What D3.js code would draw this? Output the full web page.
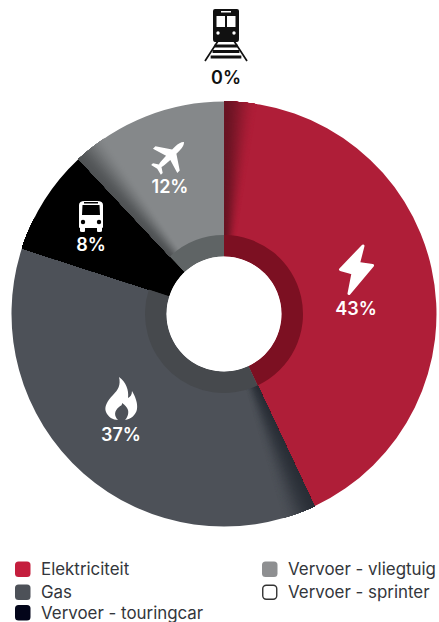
<!DOCTYPE html>
<html><head><meta charset="utf-8">
<script src="https://cdn.jsdelivr.net/npm/d3@7"></script>
<style>html,body{margin:0;background:#fff;overflow:hidden}svg{display:block}
text{font-family:Inter,sans-serif}</style></head><body><svg id="c" width="439" height="622"></svg>
<script>
const categories=["Elektriciteit","Gas","Vervoer - touringcar","Vervoer - vliegtuig","Vervoer - sprinter"];
const values=[43,37,8,12,0];
const sliceColors=["#AF1E38","#4D5158","#000000","#85888A","#FFFFFF"];
const shadeColors=["#6A1524","#2A2F37","#000000","#505355","#FFFFFF"];
const ringColors=["#7C1022","#46494D","#000000","#5F6465","#FFFFFF"];
const legendColors=["#C41E3D","#4D5158","#03051A","#8E8F91","#FFFFFF"];
const iconNames=["bolt","flame","bus","plane","train"];
const width=439,height=622,cx=224,cy=314,R=212.5,Rring=79,Rhole=57.5;
const svg=d3.select("#c");
const g=svg.append("g").attr("transform",`translate(${cx},${cy})`);
const pie=d3.pie().sort(null).value((d,i)=>values[i]);
const arcs=pie(categories);
const arc=d3.arc();
g.selectAll("path.s").data(arcs).join("path").attr("class","s")
 .attr("d",d=>arc({innerRadius:Rhole,outerRadius:R,startAngle:d.startAngle,endAngle:d.endAngle}))
 .attr("fill",(d,i)=>sliceColors[i]);
const shadowSpan=9*Math.PI/180,steps=60;
arcs.forEach((d,i)=>{ if(d.value===0)return;
 const col=d3.interpolateRgb(shadeColors[i],sliceColors[i]);
 // drawn from the far end back to the slice edge, each opaque band reaching the edge, so no seams appear
 d3.range(steps-1,-1,-1).forEach(k=>{
  const a1=d.startAngle+shadowSpan*(k+1)/steps;
  const u=(k+0.5)/steps;
  g.append("path").attr("d",arc({innerRadius:Rring,outerRadius:R,startAngle:d.startAngle,endAngle:a1}))
   .attr("fill",col(u*u*(3-2*u)));
 });
});
g.selectAll("path.r").data(arcs).join("path").attr("class","r")
 .attr("d",d=>arc({innerRadius:Rhole,outerRadius:Rring,startAngle:d.startAngle,endAngle:d.endAngle}))
 .attr("fill",(d,i)=>ringColors[i]);
g.append("circle").attr("r",Rhole).attr("fill","#fff");

const icons={
 bolt:s=>s.append("path").attr("d","M7,-24 L-15.5,-0.5 L-3,3 L-7,23.5 L16.5,-4.5 L2.5,-6.5 Z").attr("stroke-width",3).attr("stroke-linejoin","round").attr("stroke","currentColor"),
 flame:s=>s.append("path").attr("fill-rule","evenodd").attr("d","M-2,-21 C0,-13 -3,-8 -8,-3 C-14,3 -17,9 -15,14 C-13,19 -8,22 -3,22 C-7,18 -7,13 -2,9 C1,7 1,7 1,5 C4,7 6,9 7,12 C8,16 6,20 4,22 C10,21 15,17 16,11 C17,5 14,-2 11,-7 C11,-3 9,-1 7,0 C8,-8 5,-16 -2,-21 Z"),
 bus:s=>{
  s.append("path").attr("fill-rule","evenodd").attr("d","M-12,-11 Q-12,-15 -6,-15 L6,-15 Q12,-15 12,-11 L12,11 Q12,12 11,12 L11,15 Q11,16 9,16 L7,16 Q6,16 6,15 L6,12 L-6,12 L-6,15 Q-6,16 -7,16 L-9,16 Q-11,16 -11,15 L-11,12 Q-12,12 -12,11 Z M-8.5,-11 L-9,-1 L9,-1 L8.5,-11 Z");
  s.append("rect").attr("x",-7).attr("y",-14).attr("width",14).attr("height",1.5).attr("fill","#000");
  s.selectAll("circle").data([-8,8]).join("circle").attr("cx",d=>d).attr("cy",6).attr("r",2.2).attr("fill","#000");
 },
 plane:s=>s.append("g").attr("transform","rotate(45) scale(.86)").append("path").attr("d","M0,-23 Q3.5,-20 3.5,-12 L3.5,-7 L20,4 L20,8 L3.5,3 L3,12 Q3,15 2,16 L8,20 L8,23 L0,21 L-8,23 L-8,20 L-2,16 Q-3,15 -3,12 L-3.5,3 L-20,8 L-20,4 L-3.5,-7 L-3.5,-12 Q-3.5,-20 0,-23 Z"),
 train:s=>{
  s.append("path").attr("fill-rule","evenodd").attr("d","M-11,-27 L11,-27 Q13,-27 13,-25 L13,3 Q13,6 11,6 L-11,6 Q-13,6 -13,3 L-13,-25 Q-13,-27 -11,-27 Z M-9.5,-20 L-9.5,-9 L-1,-9 L-1,-20 Z M1,-20 L1,-9 L9.5,-9 L9.5,-20 Z M-5,-25 L-5,-23.5 L5,-23.5 L5,-25 Z");
  s.selectAll("circle").data([-8,8]).join("circle").attr("cx",d=>d).attr("cy",-3).attr("r",1.7).attr("fill","#fff");
  s.append("path").attr("fill","none").attr("stroke","currentColor").attr("stroke-width",1.7).attr("d","M-8,5 L-21,25 M8,5 L21,25");
  s.selectAll("rect").data([10,15.5,21]).join("rect").attr("x",d=>-8-d*0.35).attr("y",d=>d-1.5).attr("width",d=>16+d*0.7).attr("height",3);
 }
};
const iconAnchors=[[356,270],[121,398],[91,216],[170,156],[226,36]];
const labelAnchors=[[356,315],[121,441],[91,251],[170,193],[226,84]];
const labelFills=["#fff","#fff","#fff","#fff","#111"];
iconNames.forEach((n,i)=>{
 const s=svg.append("g").attr("transform",`translate(${iconAnchors[i]})`).attr("fill",labelFills[i]).style("color",labelFills[i]);
 icons[n](s);
 svg.append("text").attr("x",labelAnchors[i][0]).attr("y",labelAnchors[i][1]).attr("text-anchor","middle")
  .attr("fill",labelFills[i]).attr("font-size",18).attr("font-weight",600).text(values[i]+"%");
});
const legendX=[15,262],legendY=[569.5,592.5,613];
const legendCol=[0,0,0,1,1],legendRow=[0,1,2,0,1];
categories.forEach((c,i)=>{
 const x=legendX[legendCol[i]],y=legendY[legendRow[i]];
 const sprinter=i===4;
 svg.append("rect").attr("x",x+(sprinter?0.75:0)).attr("y",y-8+(sprinter?0.75:0))
  .attr("width",sprinter?14:15.5).attr("height",sprinter?14:15.5).attr("rx",3.5)
  .attr("fill",legendColors[i]).attr("stroke",sprinter?"#333":"none").attr("stroke-width",1.4);
 svg.append("text").attr("x",x+26).attr("y",y+5.5).attr("fill","#33363b").attr("font-size",16.9).text(c);
});
</script></body></html>
